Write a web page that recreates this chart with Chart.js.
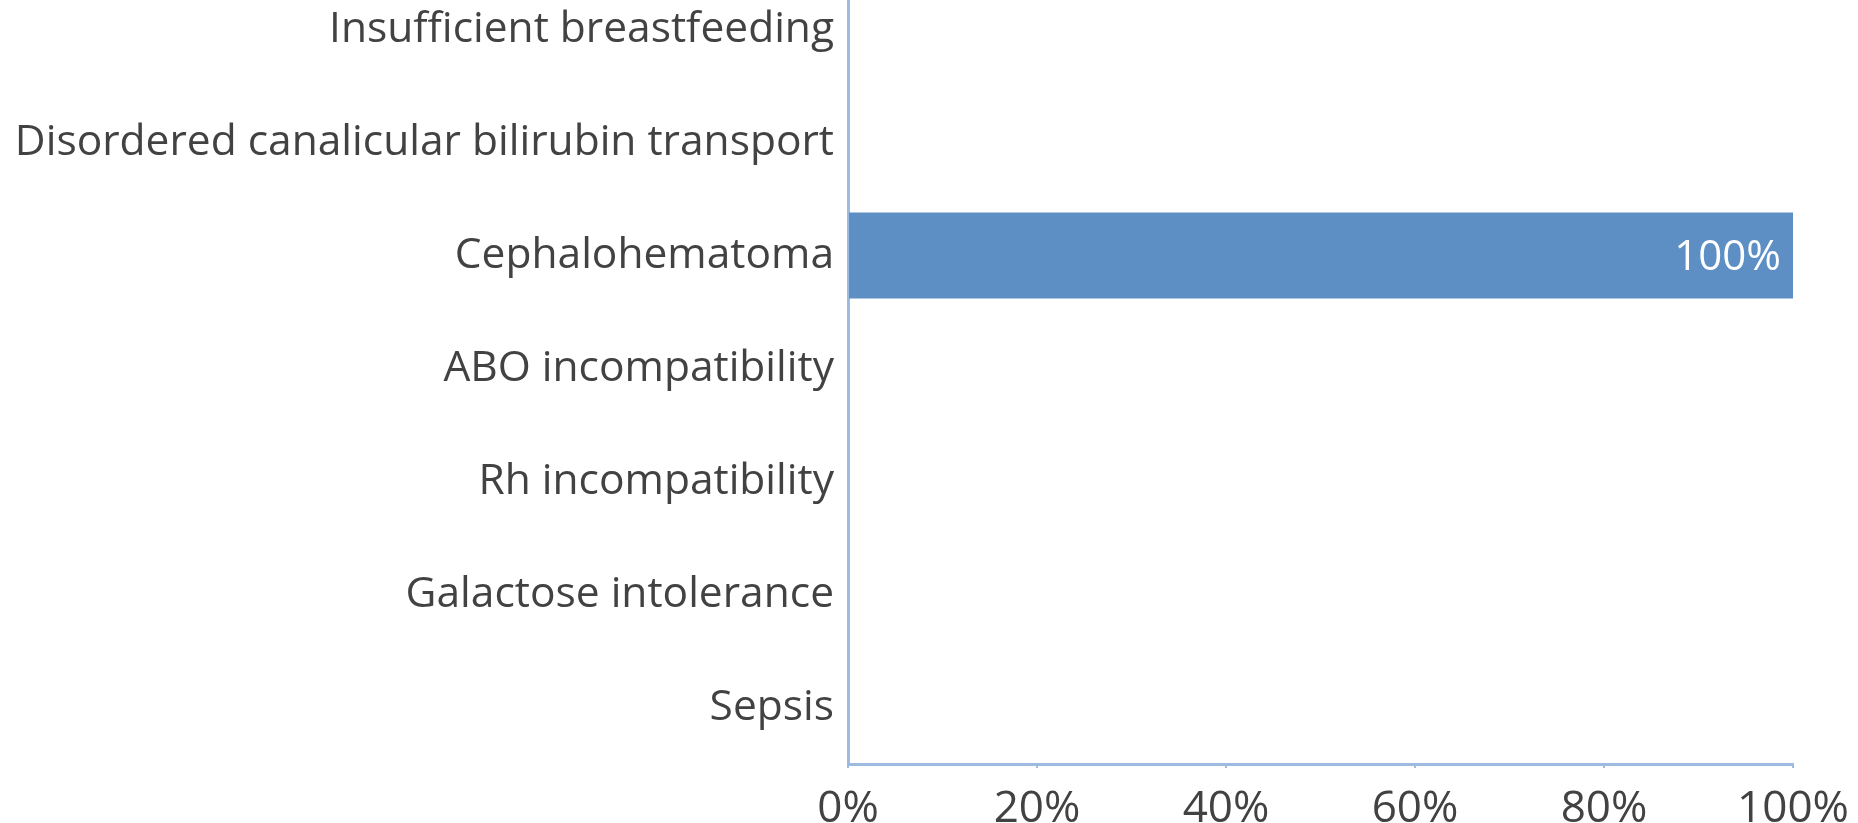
<!DOCTYPE html>
<html>
<head>
<meta charset="utf-8">
<script src="https://cdn.jsdelivr.net/npm/chart.js@4.4.1/dist/chart.umd.min.js"></script>
<style>
  html, body { margin: 0; padding: 0; background: #ffffff; overflow: hidden; }
  #wrap { position: absolute; left: 0; top: -27px; width: 1858px; height: 856px; }
</style>
</head>
<body>
<div id="wrap"><canvas id="chart"></canvas></div>
<script>
// Causes of neonatal jaundice, share of cases (%)
const causes = [
  'Insufficient breastfeeding',
  'Disordered canalicular bilirubin transport',
  'Cephalohematoma',
  'ABO incompatibility',
  'Rh incompatibility',
  'Galactose intolerance',
  'Sepsis'
];
const shares = [0, 0, 100, 0, 0, 0, 0];
const percentTicks = [0, 20, 40, 60, 80, 100];

const FONT = '"Open Sans", "Noto Sans", sans-serif';
const TEXT = '#424242';
const AXIS = '#9dbbe0';
const BAR = '#5d8fc5';

// Writes each non-zero share inside the right end of its bar
const barValueLabels = {
  id: 'barValueLabels',
  afterDatasetsDraw(chart) {
    const { ctx } = chart;
    const meta = chart.getDatasetMeta(0);
    ctx.save();
    ctx.font = '42px ' + FONT;
    ctx.fillStyle = '#ffffff';
    ctx.textAlign = 'right';
    ctx.textBaseline = 'middle';
    meta.data.forEach((bar, i) => {
      const v = shares[i];
      if (!v) return;
      ctx.fillText(v + '%', bar.x - 12, bar.y + 3);
    });
    ctx.restore();
  }
};

new Chart(document.getElementById('chart'), {
  type: 'bar',
  data: {
    labels: causes,
    datasets: [{
      data: shares,
      backgroundColor: BAR,
      borderWidth: 0,
      barPercentage: 0.76,
      categoryPercentage: 1
    }]
  },
  options: {
    indexAxis: 'y',
    responsive: true,
    maintainAspectRatio: false,
    animation: false,
    layout: { padding: { left: 0, right: 65, top: 0, bottom: 0 } },
    plugins: { legend: { display: false }, tooltip: { enabled: false } },
    scales: {
      x: {
        min: 0,
        max: 100,
        afterBuildTicks(scale) {
          scale.ticks = percentTicks.map(v => ({ value: v }));
        },
        afterFit(scale) {
          scale.height = 65;
          scale.paddingLeft = 0;
          scale.paddingRight = 0;
        },
        border: { display: true, color: AXIS, width: 3 },
        grid: { display: true, drawOnChartArea: false, drawTicks: true, tickLength: 4, color: AXIS, lineWidth: 2 },
        ticks: {
          padding: 15,
          color: TEXT,
          font: { family: FONT, size: 44 },
          maxRotation: 0,
          callback: v => v + '%'
        }
      },
      y: {
        afterFit(scale) {
          scale.width = 848;
          scale.paddingTop = 0;
          scale.paddingBottom = 0;
        },
        border: { display: true, color: AXIS, width: 3 },
        grid: { display: false, drawTicks: false },
        ticks: {
          padding: 14,
          color: TEXT,
          font: { family: FONT, size: 42.5 },
          autoSkip: false
        }
      }
    }
  },
  plugins: [barValueLabels]
});
</script>
</body>
</html>
